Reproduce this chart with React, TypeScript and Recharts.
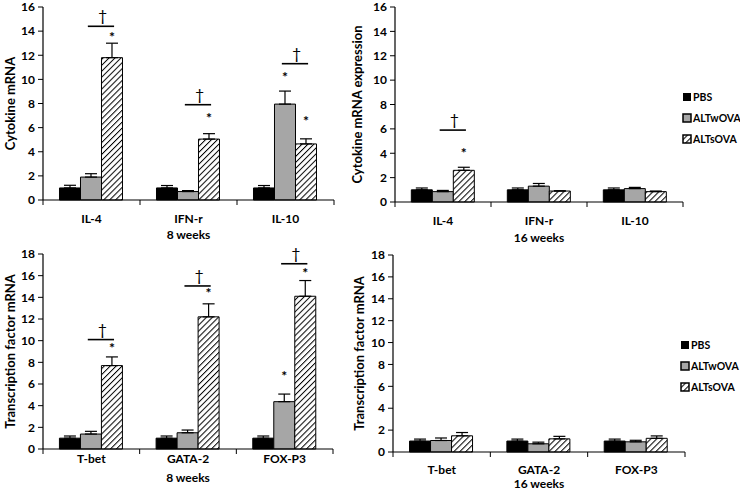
import React from 'react'
import { BarChart, Bar, XAxis, YAxis, ErrorBar, LabelList, Legend } from 'recharts'

const FONT = 'Lato, "Open Sans", "DejaVu Sans", sans-serif'

const cytokines = ['IL-4', 'IFN-r', 'IL-10']
const factors = ['T-bet', 'GATA-2', 'FOX-P3']
const groups = ['PBS', 'ALTwOVA', 'ALTsOVA']

const ticks16 = [0, 2, 4, 6, 8, 10, 12, 14, 16]
const ticks18 = [0, 2, 4, 6, 8, 10, 12, 14, 16, 18]

// cytokine mRNA, 8 weeks
const cyto8Pbs = [1.0, 1.0, 1.0]
const cyto8Altw = [1.9, 0.7, 7.95]
const cyto8Alts = [11.8, 5.05, 4.65]
const cyto8PbsErr = [0.22, 0.2, 0.2]
const cyto8AltwErr = [0.28, 0.08, 1.08]
const cyto8AltsErr = [1.2, 0.45, 0.42]
// significance: height of the dagger line, star over ALTwOVA, star over ALTsOVA
const cyto8Sig = [14.4, 7.9, 11.3]
const cyto8StarW = [null, null, 10.3]
const cyto8StarS = [13.6, 6.9, 6.7]

// cytokine mRNA, 16 weeks
const cyto16Pbs = [1.0, 1.0, 1.0]
const cyto16Altw = [0.85, 1.3, 1.1]
const cyto16Alts = [2.6, 0.9, 0.85]
const cyto16PbsErr = [0.15, 0.15, 0.15]
const cyto16AltwErr = [0.1, 0.22, 0.1]
const cyto16AltsErr = [0.25, 0.02, 0.05]
const cyto16Sig = [5.9, null, null]
const cyto16StarW = [null, null, null]
const cyto16StarS = [4.15, null, null]

// transcription factor mRNA, 8 weeks
const tf8Pbs = [1.0, 1.0, 1.0]
const tf8Altw = [1.38, 1.5, 4.37]
const tf8Alts = [7.7, 12.2, 14.1]
const tf8PbsErr = [0.2, 0.2, 0.2]
const tf8AltwErr = [0.25, 0.25, 0.7]
const tf8AltsErr = [0.8, 1.2, 1.45]
const tf8Sig = [10.1, 15.05, 17.1]
const tf8StarW = [null, null, 6.9]
const tf8StarS = [9.5, 14.5, 16.4]

// transcription factor mRNA, 16 weeks
const tf16Pbs = [1.0, 1.0, 1.0]
const tf16Altw = [1.05, 0.75, 0.93]
const tf16Alts = [1.48, 1.2, 1.25]
const tf16PbsErr = [0.18, 0.18, 0.18]
const tf16AltwErr = [0.23, 0.15, 0.14]
const tf16AltsErr = [0.3, 0.23, 0.22]
const tf16None = [null, null, null]

type Num = number | null

function HatchDef({ id }: { id: string }) {
  return (
    <pattern id={id} width="4.2" height="4.2" patternUnits="userSpaceOnUse" patternTransform="rotate(45)">
      <rect width="4.2" height="4.2" fill="#fff" />
      <line x1="0" y1="0" x2="0" y2="4.2" stroke="#000" strokeWidth="2" />
    </pattern>
  )
}

function LegendBox({ hatchId }: { hatchId: string }) {
  return (
    <div style={{ fontFamily: FONT, fontWeight: 700, fontSize: 10.5, color: '#000' }}>
      {groups.map((g, i) => (
        <div key={g} style={{ display: 'flex', alignItems: 'center', height: 21 }}>
          <svg width={10} height={10} style={{ marginRight: 1 }}>
            {i === 0 && <rect x={1} y={1} width={8} height={8} fill="#000" />}
            {i === 1 && <rect x={1} y={1} width={8} height={8} fill="#a6a6a6" stroke="#000" strokeWidth={1.5} />}
            {i === 2 && <rect x={1} y={1} width={8} height={8} fill={`url(#${hatchId})`} stroke="#000" strokeWidth={1.5} />}
          </svg>
          <span>{g}</span>
        </div>
      ))}
    </div>
  )
}

type PanelProps = {
  id: string
  left: number
  top: number
  width: number
  height: number
  margin: { top: number; right: number; bottom: number; left: number }
  yAxisWidth: number
  xAxisHeight: number
  categories: string[]
  pbs: number[]
  altw: number[]
  alts: number[]
  pbsErr: number[]
  altwErr: number[]
  altsErr: number[]
  sig: Num[]
  starW: Num[]
  starS: Num[]
  yMax: number
  yTicks: number[]
  yLabel: string
  yLabelX: number
  xLabel: string
  tickDy: number
  xLabelDy: number
  legendAt?: { x: number; y: number }
}

function Panel(p: PanelProps) {
  const data = p.categories.map((name, i) => ({
    name,
    pbs: p.pbs[i],
    altw: p.altw[i],
    alts: p.alts[i],
    pbsErr: [0, p.pbsErr[i]],
    altwErr: [0, p.altwErr[i]],
    altsErr: [0, p.altsErr[i]],
  }))
  const plotWidth = p.width - p.margin.left - p.margin.right - p.yAxisWidth
  const half = plotWidth / p.categories.length / 2
  const hatchId = `hatch-${p.id}`
  const text = { fontFamily: FONT, fontWeight: 700, fill: '#000' }

  const renderSig = (props: any) => {
    const vb = props.viewBox ?? props
    const { x, y, width, height } = vb
    const i = props.index
    const v = Number(props.value)
    if (!v || !height) return null
    const perUnit = height / v
    const base = y + height
    const toY = (val: number) => base - val * perUnit
    const s = p.sig[i]
    const sw = p.starW[i]
    const ss = p.starS[i]
    return (
      <g>
        {s != null && (
          <g>
            <line x1={x - 0.65 * width} x2={x + 0.6 * width} y1={toY(s)} y2={toY(s)} stroke="#000" strokeWidth={1.6} />
            <text x={x + 0.05 * width} y={toY(s) - 5} textAnchor="middle" fontFamily={FONT} fontSize={16} fill="#000">
              †
            </text>
          </g>
        )}
        {ss != null && (
          <text x={x + width / 2} y={toY(ss) + 6.5} textAnchor="middle" {...text} fontSize={14}>
            *
          </text>
        )}
        {sw != null && (
          <text x={x - width / 2} y={toY(sw) + 6.5} textAnchor="middle" {...text} fontSize={14}>
            *
          </text>
        )}
      </g>
    )
  }

  const catTick = (t: any) => {
    const last = t.index === p.categories.length - 1
    return (
      <g>
        <line x1={t.x - half} x2={t.x - half} y1={t.y} y2={t.y + 5} stroke="#000" />
        {last && <line x1={t.x + half} x2={t.x + half} y1={t.y} y2={t.y + 5} stroke="#000" />}
        <text x={t.x} y={t.y + p.tickDy} textAnchor="middle" dominantBaseline="central" {...text} fontSize={12}>
          {t.payload.value}
        </text>
      </g>
    )
  }

  const xLab = (props: any) => {
    const vb = props.viewBox
    return (
      <text x={vb.x + vb.width / 2} y={vb.y + p.xLabelDy} textAnchor="middle" dominantBaseline="central" {...text} fontSize={12}>
        {p.xLabel}
      </text>
    )
  }

  const yLab = (props: any) => {
    const vb = props.viewBox
    const cx = vb.x + p.yLabelX
    const cy = vb.y + vb.height / 2
    return (
      <text x={cx} y={cy} transform={`rotate(-90, ${cx}, ${cy})`} textAnchor="middle" dominantBaseline="central" {...text} fontSize={13}>
        {p.yLabel}
      </text>
    )
  }

  return (
    <div style={{ position: 'absolute', left: p.left, top: p.top }}>
      <BarChart width={p.width} height={p.height} data={data} margin={p.margin} barGap={0} barCategoryGap="17%">
        <defs>
          <HatchDef id={hatchId} />
        </defs>
        <XAxis
          dataKey="name"
          height={p.xAxisHeight}
          axisLine={{ stroke: '#000', strokeWidth: 1.2 }}
          tickLine={false}
          tickSize={0}
          tickMargin={0}
          interval={0}
          tick={catTick}
          label={xLab}
        />
        <YAxis
          width={p.yAxisWidth}
          domain={[0, p.yMax]}
          ticks={p.yTicks}
          interval={0}
          axisLine={{ stroke: '#000', strokeWidth: 1.2 }}
          tickLine={{ stroke: '#000' }}
          tickSize={5}
          tickMargin={3}
          tick={{ ...text, fontSize: 12 }}
          label={yLab}
        />
        {p.legendAt && (
          <Legend
            layout="vertical"
            align="center"
            verticalAlign="middle"
            wrapperStyle={{ left: p.legendAt.x, top: p.legendAt.y - 10.5, width: 62, height: 63 }}
            content={() => <LegendBox hatchId={hatchId} />}
          />
        )}
        <Bar dataKey="pbs" name={groups[0]} fill="#000" stroke="#000" strokeWidth={1} isAnimationActive={false}>
          <ErrorBar dataKey="pbsErr" direction="y" width={6} stroke="#000" strokeWidth={1.2} />
        </Bar>
        <Bar dataKey="altw" name={groups[1]} fill="#a6a6a6" stroke="#000" strokeWidth={1} isAnimationActive={false}>
          <ErrorBar dataKey="altwErr" direction="y" width={6} stroke="#000" strokeWidth={1.2} />
        </Bar>
        <Bar dataKey="alts" name={groups[2]} fill={`url(#${hatchId})`} stroke="#000" strokeWidth={1} isAnimationActive={false}>
          <ErrorBar dataKey="altsErr" direction="y" width={6} stroke="#000" strokeWidth={1.2} />
          <LabelList dataKey="alts" content={renderSig} />
        </Bar>
      </BarChart>
    </div>
  )
}

export default function App() {
  return (
    <div style={{ position: 'absolute', left: 0, top: 0, width: 740, height: 490, background: '#fff', overflow: 'hidden' }}>
      <Panel
        id="c8"
        left={0}
        top={0}
        width={345}
        height={245}
        margin={{ top: 7, right: 11, bottom: 5, left: 0 }}
        yAxisWidth={43}
        xAxisHeight={40}
        categories={cytokines}
        pbs={cyto8Pbs}
        altw={cyto8Altw}
        alts={cyto8Alts}
        pbsErr={cyto8PbsErr}
        altwErr={cyto8AltwErr}
        altsErr={cyto8AltsErr}
        sig={cyto8Sig}
        starW={cyto8StarW}
        starS={cyto8StarS}
        yMax={16}
        yTicks={ticks16}
        yLabel="Cytokine mRNA"
        yLabelX={10}
        xLabel="8 weeks"
        tickDy={18}
        xLabelDy={34}
      />
      <Panel
        id="c16"
        left={345}
        top={0}
        width={395}
        height={245}
        margin={{ top: 7, right: 57, bottom: 3, left: 0 }}
        yAxisWidth={50}
        xAxisHeight={40}
        categories={cytokines}
        pbs={cyto16Pbs}
        altw={cyto16Altw}
        alts={cyto16Alts}
        pbsErr={cyto16PbsErr}
        altwErr={cyto16AltwErr}
        altsErr={cyto16AltsErr}
        sig={cyto16Sig}
        starW={cyto16StarW}
        starS={cyto16StarS}
        yMax={16}
        yTicks={ticks16}
        yLabel="Cytokine mRNA expression"
        yLabelX={12}
        xLabel="16 weeks"
        tickDy={18}
        xLabelDy={35}
        legendAt={{ x: 337, y: 97 }}
      />
      <Panel
        id="t8"
        left={0}
        top={232}
        width={345}
        height={258}
        margin={{ top: 22, right: 12, bottom: 1, left: 0 }}
        yAxisWidth={43}
        xAxisHeight={40}
        categories={factors}
        pbs={tf8Pbs}
        altw={tf8Altw}
        alts={tf8Alts}
        pbsErr={tf8PbsErr}
        altwErr={tf8AltwErr}
        altsErr={tf8AltsErr}
        sig={tf8Sig}
        starW={tf8StarW}
        starS={tf8StarS}
        yMax={18}
        yTicks={ticks18}
        yLabel="Transcription factor mRNA"
        yLabelX={9.5}
        xLabel="8 weeks"
        tickDy={9.5}
        xLabelDy={28}
      />
      <Panel
        id="t16"
        left={345}
        top={245}
        width={395}
        height={245}
        margin={{ top: 10, right: 55, bottom: 0, left: 0 }}
        yAxisWidth={48}
        xAxisHeight={38}
        categories={factors}
        pbs={tf16Pbs}
        altw={tf16Altw}
        alts={tf16Alts}
        pbsErr={tf16PbsErr}
        altwErr={tf16AltwErr}
        altsErr={tf16AltsErr}
        sig={tf16None}
        starW={tf16None}
        starS={tf16None}
        yMax={18}
        yTicks={ticks18}
        yLabel="Transcription factor mRNA"
        yLabelX={14}
        xLabel="16 weeks"
        tickDy={17}
        xLabelDy={31}
        legendAt={{ x: 335, y: 100 }}
      />
    </div>
  )
}
